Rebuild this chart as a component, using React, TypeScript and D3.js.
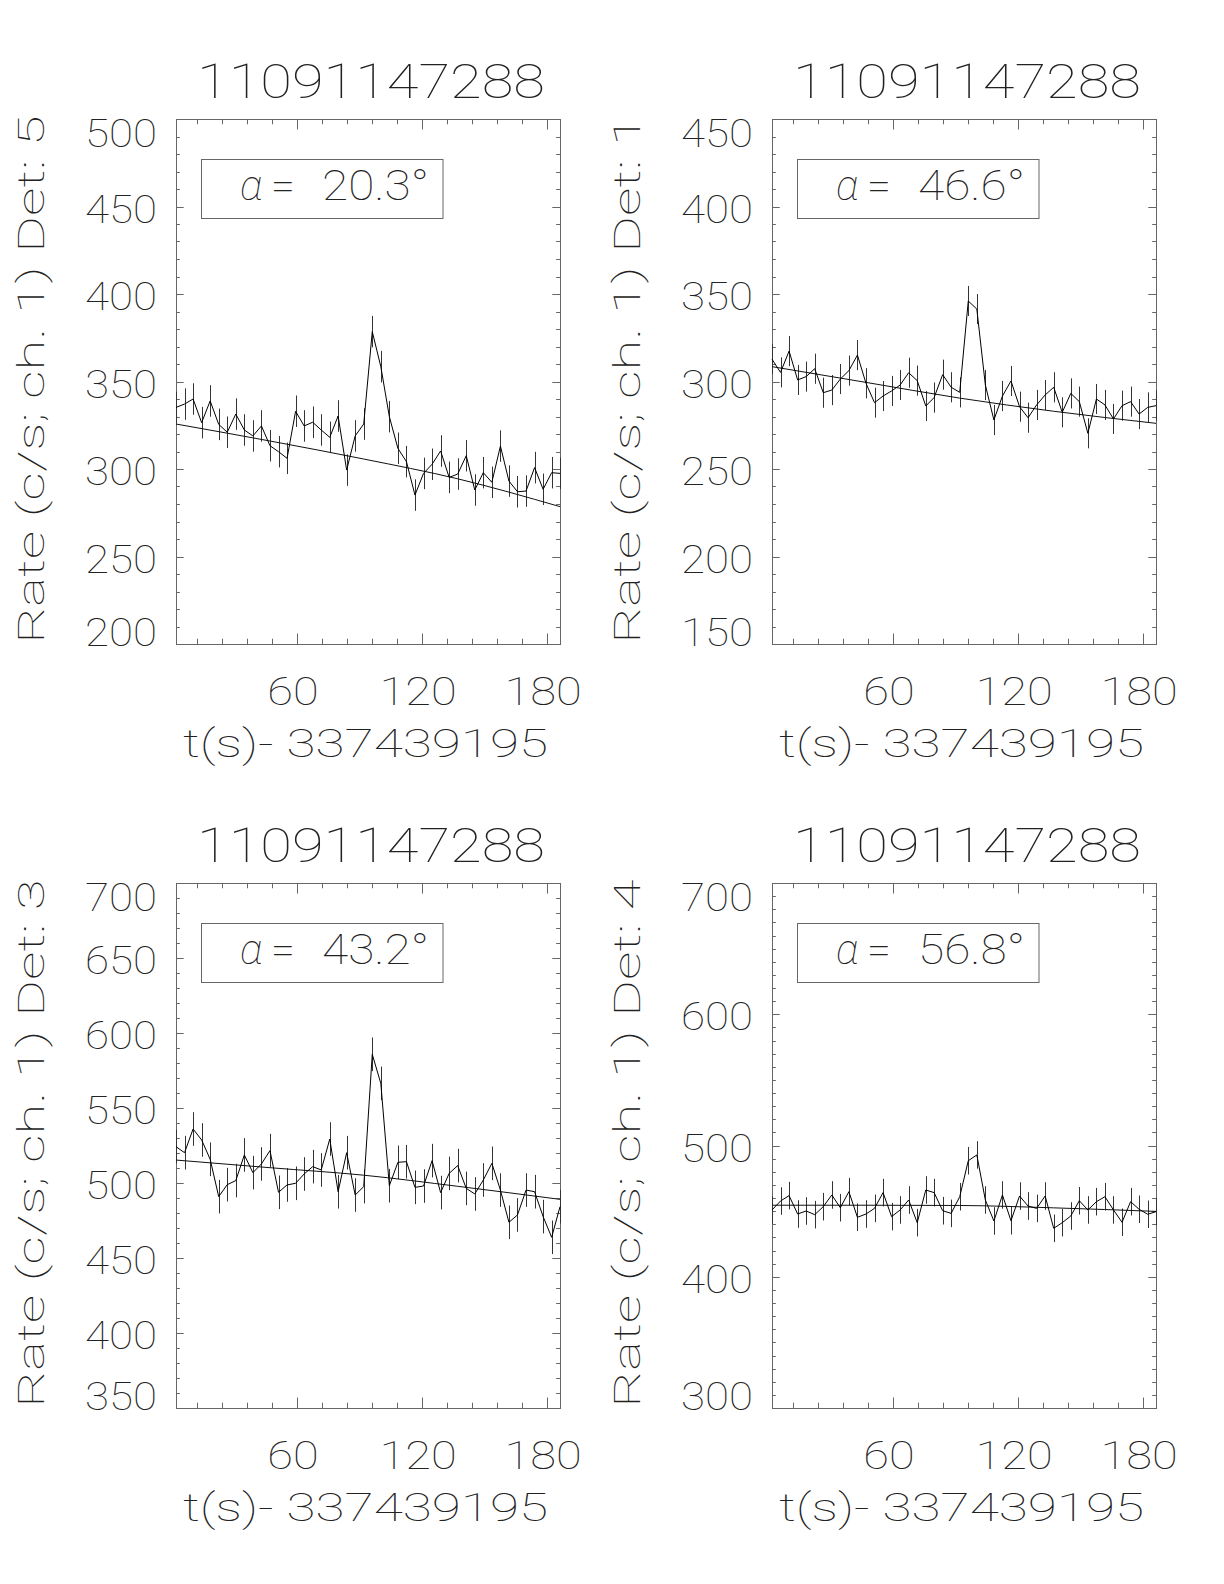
import { useEffect, useRef } from "react";
import * as d3 from "d3";

// bin centres, seconds after 337439195
const times = [
  1.9, 6.0, 10.1, 14.2, 18.3, 22.4, 26.5, 30.6, 34.7, 38.8, 42.9, 47.0, 51.1, 55.2, 59.3, 63.4, 67.5, 71.6, 75.7, 79.7,
  83.8, 87.9, 92.0, 96.1, 100.2, 104.3, 108.4, 112.5, 116.6, 120.7, 124.8, 128.9, 133.0, 137.1, 141.2, 145.3, 149.4,
  153.5, 157.6, 161.7, 165.8, 169.9, 174.0, 178.1, 182.2, 186.2,
];

const det5Rate = [
  335.2, 337.1, 340, 326.5, 338.9, 325.5, 321, 331.4, 322.3, 318.9, 324.6, 313.3, 309.9, 306.1, 333, 324.6, 326.7, 322.3,
  318.1, 330.3, 299.4, 318.9, 325.7, 378.5, 358.5, 329.9, 311.8, 304.2, 285.1, 297.5, 302.7, 310.3, 295.2, 297.1, 307.6,
  288, 297.9, 292.4, 313.1, 293.1, 287, 287.4, 300.8, 288.4, 297.9, 297.5,
];
const det1Rate = [
  312.7, 305.2, 317.4, 300.9, 302.8, 307.3, 293.6, 295.1, 301.4, 306.2, 315.1, 299, 287.9, 291.7, 294.6, 298, 305, 300.5,
  286, 290.8, 303.9, 296.7, 293.8, 346, 341.4, 298, 278, 291.7, 300.3, 285.6, 279.3, 286.6, 292.3, 296.7, 282.4, 293.2,
  288.5, 270.4, 290, 286.6, 278.6, 286.2, 288.5, 281.4, 285.2, 286.2,
];
const det3Rate = [
  524.2, 520.2, 536, 528.7, 515.8, 490.9, 498.9, 501.6, 518.7, 506.9, 512.7, 521.6, 493.8, 498.7, 499.8, 506, 510.9, 508.7,
  529.3, 494.2, 520.2, 492, 497.6, 585.8, 566.4, 498.2, 513.8, 514.2, 497.1, 498, 514.9, 493.6, 506.4, 511.6, 496.4, 492.7,
  502, 513.1, 495.3, 473.8, 478.7, 495.3, 494.2, 477.6, 463.8, 484.2,
];
const det4Rate = [
  450.9, 457.7, 461.8, 447.8, 450.1, 447.3, 453.4, 462.3, 452.6, 464.8, 445.3, 447.8, 452.1, 464.1, 445.8, 450.9, 458.5,
  441.2, 466.1, 464.1, 450.3, 448.3, 461, 488.4, 492.8, 458.5, 442.5, 462.3, 442.7, 461.5, 453.9, 452.1, 461.5, 436.9,
  441.2, 446.3, 457.9, 450.9, 457.2, 461, 450.9, 441.5, 457.2, 451.4, 447.6, 449.6,
];

// background fit, sampled at a few times
const fitTimes = [1.9, 47.0, 92.0, 137.1, 186.2];
const det5Fit = [325.7, 316, 305.7, 294.4, 278.5];
const det1Fit = [308.5, 299.5, 290.5, 283, 276.1];
const det3Fit = [515.3, 510.2, 505.2, 497.8, 489.1];
const det4Fit = [454.5, 454.5, 454.3, 452.5, 449.8];

const xTickLabels = [60, 120, 180];
const burstId = "11091147288";
const xTitle = "t(s)- 337439195";

const panels = [
  { det: "5", rate: det5Rate, fit: det5Fit, err: 9, yDomain: [200, 500], yMajor: 50, alpha: "20.3", col: 0, row: 0 },
  { det: "1", rate: det1Rate, fit: det1Fit, err: 8.6, yDomain: [150, 450], yMajor: 50, alpha: "46.6", col: 1, row: 0 },
  { det: "3", rate: det3Rate, fit: det3Fit, err: 11.2, yDomain: [350, 700], yMajor: 50, alpha: "43.2", col: 0, row: 1 },
  { det: "4", rate: det4Rate, fit: det4Fit, err: 10.5, yDomain: [300, 700], yMajor: 100, alpha: "56.8", col: 1, row: 1 },
];

const FONT = "Roboto, 'DejaVu Sans', sans-serif";
const INK = "#222";
const AXIS = "#666";

function drawPanel(svg, p) {
  const w = 384,
    h = 525;
  const left = 176 + p.col * 596,
    top = 119 + p.row * 764;
  const bottom = top + h,
    right = left + w;

  const x = d3.scaleLinear().domain([times[0], times[times.length - 1]]).range([left, right]);
  const y = d3.scaleLinear().domain(p.yDomain).range([bottom, top]);
  const g = svg.append("g");

  // ticks on all four sides, pointing in
  const xMinor = d3.range(12, times[times.length - 1], 12);
  g.selectAll(".xt")
    .data(xMinor)
    .join("path")
    .attr("d", (v) => {
      const px = Math.round(x(v)) + 0.5;
      const l = xTickLabels.includes(v) ? 10.5 : 5.25;
      return `M${px},${bottom}V${bottom - l}M${px},${top}V${top + l}`;
    })
    .attr("stroke", AXIS)
    .attr("fill", "none");

  const [y0, y1] = p.yDomain;
  const yMinor = d3.range(y0 + 10, y1, 10);
  g.selectAll(".yt")
    .data(yMinor)
    .join("path")
    .attr("d", (v) => {
      const py = Math.round(y(v)) + 0.5;
      const l = (v - y0) % p.yMajor === 0 ? 7.7 : 3.85;
      return `M${left},${py}H${left + l}M${right},${py}H${right - l}`;
    })
    .attr("stroke", AXIS)
    .attr("fill", "none");

  g.append("rect")
    .attr("x", left + 0.5)
    .attr("y", top + 0.5)
    .attr("width", w)
    .attr("height", h)
    .attr("fill", "none")
    .attr("stroke", AXIS);

  const label = (sel, size) =>
    sel.attr("font-size", size).attr("font-weight", 100).attr("font-family", FONT).attr("fill", INK);

  // y tick labels; end labels pulled inside the box like the original
  const yMajors = d3.range(y0, y1 + 1, p.yMajor);
  g.selectAll(".yl")
    .data(yMajors)
    .join("text")
    .attr("x", left - 19)
    .attr("y", (v) => Math.max(top + 14.5, Math.min(bottom - 11, y(v) + 3)))
    .attr("dominant-baseline", "central")
    .attr("text-anchor", "end")
    .attr("textLength", (v) => String(v).length * 24)
    .attr("lengthAdjust", "spacingAndGlyphs")
    .call(label, 39)
    .text((v) => v);

  g.selectAll(".xl")
    .data(xTickLabels)
    .join("text")
    .attr("x", (v) => x(v) - 4)
    .attr("y", bottom + 61)
    .attr("text-anchor", "middle")
    .attr("textLength", (v) => String(v).length * 25.7)
    .attr("lengthAdjust", "spacingAndGlyphs")
    .call(label, 39)
    .text((v) => v);

  g.append("text")
    .attr("x", left + 7)
    .attr("y", bottom + 113)
    .attr("textLength", 365)
    .attr("lengthAdjust", "spacingAndGlyphs")
    .call(label, 39)
    .text(xTitle);

  g.append("text")
    .attr("x", left + 21)
    .attr("y", top - 21)
    .attr("textLength", 348)
    .attr("lengthAdjust", "spacingAndGlyphs")
    .call(label, 48.5)
    .text(burstId);

  // y title, rotated
  const ly = top + h / 2 - 2;
  const lx = left - 132;
  g.append("text")
    .attr("transform", `translate(${lx},${ly}) rotate(-90)`)
    .attr("x", -264)
    .attr("y", 0)
    .attr("textLength", 528)
    .attr("lengthAdjust", "spacingAndGlyphs")
    .call(label, 36.5)
    .text(`Rate (c/s; ch. 1) Det: ${p.det}`);

  // angle box
  g.append("rect")
    .attr("x", left + 25.5)
    .attr("y", top + 40.5)
    .attr("width", 241.5)
    .attr("height", 59)
    .attr("fill", "none")
    .attr("stroke", AXIS);
  const at = g.append("text").attr("y", top + 81).call(label, 42);
  at.append("tspan").attr("x", left + 64).attr("font-style", "italic").text("α");
  at.append("tspan")
    .attr("x", left + 95)
    .attr("textLength", 24)
    .attr("lengthAdjust", "spacingAndGlyphs")
    .text("=");
  at.append("tspan")
    .attr("x", left + 146)
    .attr("textLength", 107)
    .attr("lengthAdjust", "spacingAndGlyphs")
    .text(`${p.alpha}°`);

  // error bars
  g.selectAll(".eb")
    .data(p.rate)
    .join("line")
    .attr("x1", (d, i) => Math.round(x(times[i])) + 0.5)
    .attr("x2", (d, i) => Math.round(x(times[i])) + 0.5)
    .attr("y1", (d) => y(d - p.err))
    .attr("y2", (d) => y(d + p.err))
    .attr("stroke", "#333")
    .attr("stroke-width", 1);

  // background fit
  const fitLine = d3
    .line()
    .x((d, i) => x(fitTimes[i]))
    .y((d) => y(d))
    .curve(d3.curveMonotoneX);
  g.append("path").datum(p.fit).attr("d", fitLine).attr("fill", "none").attr("stroke", "#111").attr("stroke-width", 1);

  const rateLine = d3
    .line()
    .x((d, i) => x(times[i]))
    .y((d) => y(d));
  g.append("path").datum(p.rate).attr("d", rateLine).attr("fill", "none").attr("stroke", "#000").attr("stroke-width", 1);
}

export default function App() {
  const ref = useRef(null);

  useEffect(() => {
    const svg = d3.select(ref.current);
    svg.selectAll("*").remove();
    svg.append("rect").attr("width", 1224).attr("height", 1584).attr("fill", "#fff");
    panels.forEach((p) => drawPanel(svg, p));
  }, []);

  return <svg ref={ref} width={1224} height={1584} style={{ position: "absolute", left: 0, top: 0 }} />;
}
